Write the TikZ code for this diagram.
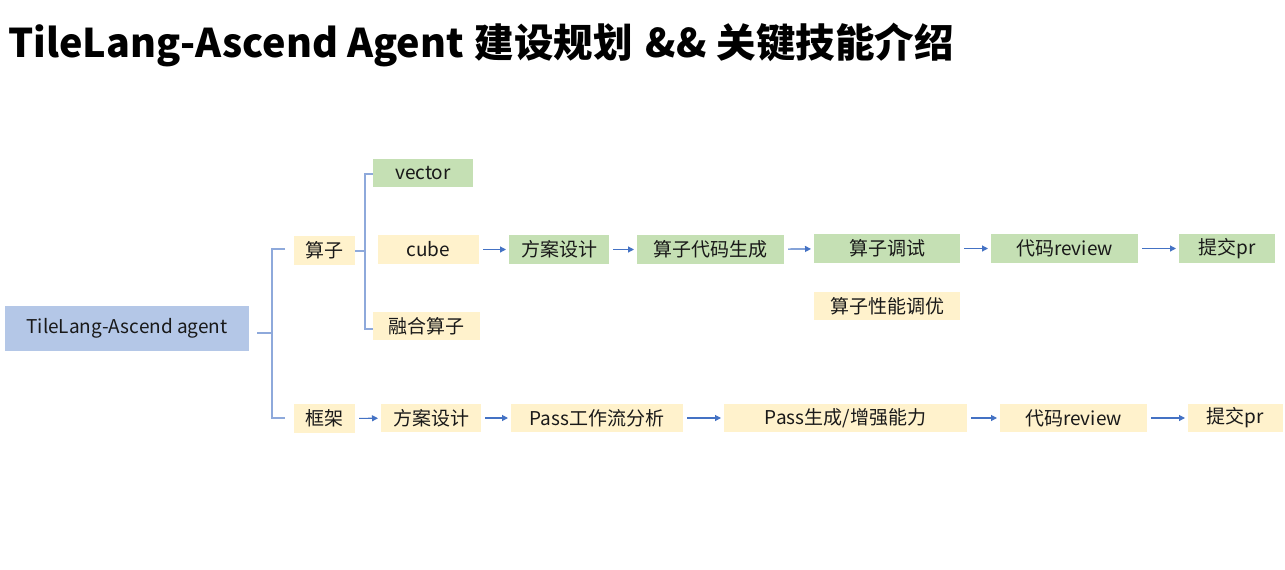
\documentclass[tikz,border=0pt]{standalone}
\usepackage{fontspec}
\setmainfont{Noto Sans CJK SC}
\usetikzlibrary{arrows.meta}
\definecolor{gfill}{HTML}{C5E0B4}
\definecolor{yfill}{HTML}{FFF2CC}
\definecolor{bfill}{HTML}{B4C7E7}
\definecolor{arrc}{HTML}{4472C4}
\definecolor{brkc}{HTML}{8EA9DB}
\tikzset{
  box/.style={inner sep=0pt, outer sep=0pt, font=\fontsize{19}{22}\selectfont, text=black!90},
  gbox/.style={box, fill=gfill},
  ybox/.style={box, fill=yfill},
  arr/.style={draw=arrc, line width=1.1pt, -{Triangle[length=6pt,width=6pt]}, shorten <=4pt, shorten >=3pt},
  brk/.style={draw=brkc, line width=1.2pt},
}
\begin{document}
\begin{tikzpicture}[x=1pt,y=-1pt]
\useasboundingbox[fill=white] (0,0) rectangle (1285,570);
\node[anchor=base west, inner sep=0pt, font=\fontsize{39.5}{44}\selectfont\bfseries] (title) at (8,57) {TileLang-Ascend Agent\hspace{11pt}建设规划\hspace{13pt}\&\&\hspace{10pt}关键技能介绍};

\node[box, fill=bfill, minimum width=244, minimum height=45] (root) at (127,328.5) {TileLang-Ascend agent};
\node[ybox, minimum width=61, minimum height=29] (suanzi) at (324.5,250.5) {算子};
\node[ybox, minimum width=61, minimum height=29] (kuangjia) at (324.5,418.5) {框架};
\node[gbox, minimum width=100, minimum height=28] (vector) at (423,173) {vector};
\node[ybox, minimum width=101, minimum height=29] (cube) at (428.5,249.5) {cube};
\node[ybox, minimum width=107, minimum height=28] (ronghe) at (426.5,326) {融合算子};

\node[gbox, minimum width=100, minimum height=29] (fa1) at (559,249.5) {方案设计};
\node[gbox, minimum width=147, minimum height=29] (dmsc) at (710.5,249.5) {算子代码生成};
\node[gbox, minimum width=146, minimum height=29] (tiaoshi) at (887,248.5) {算子调试};
\node[ybox, minimum width=146, minimum height=28] (xingneng) at (887,306) {算子性能调优};
\node[gbox, minimum width=147, minimum height=29] (review1) at (1064.5,248.5) {代码review};
\node[gbox, minimum width=96, minimum height=29] (pr1) at (1227,248.5) {提交pr};

\node[ybox, minimum width=100, minimum height=28] (fa2) at (431,418) {方案设计};
\node[ybox, minimum width=172, minimum height=28] (pass1) at (597,418) {Pass工作流分析};
\node[ybox, minimum width=243, minimum height=28] (pass2) at (845.5,418) {Pass生成/增强能力};
\node[ybox, minimum width=147, minimum height=28] (review2) at (1073.5,418) {代码review};
\node[ybox, minimum width=95, minimum height=28] (pr2) at (1235.5,418) {提交pr};

% brackets
\coordinate (b0) at (257,333);
\coordinate (b1) at (272,333);
\coordinate (bt) at (272,249);
\coordinate (bb) at (272,418);
\coordinate (bte) at (285,249);
\coordinate (bbe) at (285,418);
\draw[brk] (b0) -- (b1);
\draw[brk] (bte) -- (bt) -- (bb) -- (bbe);

\coordinate (s0) at (365,251);
\coordinate (st) at (365,174);
\coordinate (sb) at (365,329);
\draw[brk] (suanzi.east |- s0) -- (s0);
\draw[brk] (vector.west |- st) -- (st) -- (sb) -- (ronghe.west |- sb);

% arrows
\draw[arr] (cube) -- (fa1);
\draw[arr] (fa1) -- (dmsc);
\draw[arr] (dmsc) -- (tiaoshi);
\draw[arr] (tiaoshi) -- (review1);
\draw[arr] (review1) -- (pr1);
\draw[arr] (kuangjia) -- (fa2);
\draw[arr] (fa2) -- (pass1);
\draw[arr] (pass1) -- (pass2);
\draw[arr] (pass2) -- (review2);
\draw[arr] (review2) -- (pr2);
\end{tikzpicture}
\end{document}
